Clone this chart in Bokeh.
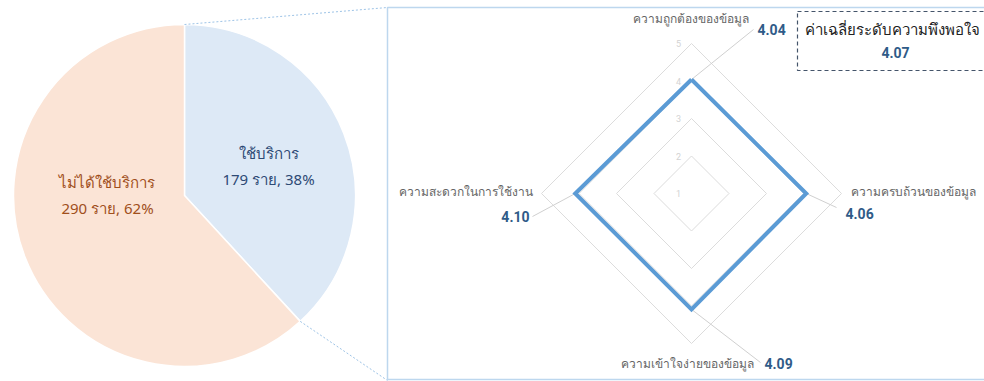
from bokeh.plotting import figure
from bokeh.models import Range1d
from bokeh.embed import file_html
from bokeh.resources import INLINE
from bokeh.core.properties import value
import math

# ---- data ----
pie_labels = ["ใช้บริการ", "ไม่ได้ใช้บริการ"]
pie_counts = [179, 290]
pie_pcts = [38, 62]

radar_axes = ["ความถูกต้องของข้อมูล", "ความครบถ้วนของข้อมูล",
              "ความเข้าใจง่ายของข้อมูล", "ความสะดวกในการใช้งาน"]
radar_scores = [4.04, 4.06, 4.09, 4.10]
ring_levels = [1, 2, 3, 4, 5]
avg_title = "ค่าเฉลี่ยระดับความพึงพอใจ"
avg_score = round(sum(radar_scores) / len(radar_scores), 2)

W, H = 984, 381
THAI = value("Noto Sans")
NUM = value("Roboto")


def Y(py):
    # page-pixel row -> data y (data y grows upward)
    return H - py


p = figure(width=W, height=H, output_backend="svg", toolbar_location=None,
           x_range=Range1d(0, W), y_range=Range1d(0, H),
           min_border=0, border_fill_color="white", outline_line_color=None)
p.axis.visible = False
p.grid.visible = False

# ---- pie ----
pcx, pcy, pr = 184, Y(195), 171
total = sum(pie_counts)
used_frac = pie_counts[0] / total
a_top = math.pi / 2
a_end = a_top - used_frac * 2 * math.pi
p.wedge(x=[pcx, pcx], y=[pcy, pcy], radius=pr,
        start_angle=[a_end, a_top], end_angle=[a_top, a_end + 2 * math.pi],
        fill_color=["#dde9f6", "#fbe4d6"], line_color="white", line_width=1.5)

# slice labels
p.text(x=[268, 106], y=[Y(152), Y(181)], text=pie_labels,
       text_color=["#2d4a75", "#a04f1c"], text_font=THAI, text_font_size="15px",
       text_align="center", text_baseline="middle")
p.text(x=[268, 107], y=[Y(178), Y(207)],
       text=[f"{c} ราย, {q}%" for c, q in zip(pie_counts, pie_pcts)],
       text_color=["#2d4a75", "#a04f1c"], text_font=THAI, text_font_size="15px",
       text_align="center", text_baseline="middle")

# zoom connector lines from the used slice to the detail panel
end_x = pcx + pr * math.cos(a_end)
end_y = pcy + pr * math.sin(a_end)
p.multi_line(xs=[[pcx, 387], [end_x, 387]], ys=[[pcy + pr, Y(7)], [end_y, Y(380)]],
             line_color="#9dc3e6", line_width=1, line_dash="2 2")

# detail panel frame
p.quad(left=[387], right=[1000], bottom=[Y(379)], top=[Y(7)],
       fill_color=None, line_color="#bdd7ee", line_width=1.5)

# ---- radar ----
rcx, rcy, unit = 691, Y(193), 37.5
dirs = [(0, 1), (1, 0), (0, -1), (-1, 0)]


def pt(v, d):
    r = (v - ring_levels[0]) * unit
    return rcx + r * d[0], rcy + r * d[1]


ring_xs, ring_ys = [], []
for lv in ring_levels[1:]:
    pts = [pt(lv, d) for d in dirs] + [pt(lv, dirs[0])]
    ring_xs.append([q[0] for q in pts])
    ring_ys.append([q[1] for q in pts])
p.multi_line(xs=ring_xs, ys=ring_ys, line_color="#dcdcdc", line_width=1)

p.text(x=[rcx - 13] * len(ring_levels),
       y=[pt(lv, dirs[0])[1] for lv in ring_levels],
       text=[str(lv) for lv in ring_levels], text_color="#d3d3d3",
       text_font=NUM, text_font_size="9px", text_align="center",
       text_baseline="middle")

# leader lines from each score vertex to its value label
verts = [pt(v, d) for v, d in zip(radar_scores, dirs)]
lead_end = [(753, Y(29)), (836, Y(207)), (760, Y(362)), (532, Y(216))]
p.multi_line(xs=[[v[0], e[0]] for v, e in zip(verts, lead_end)],
             ys=[[v[1], e[1]] for v, e in zip(verts, lead_end)],
             line_color="#d0d0d0", line_width=1)

sx = [q[0] for q in verts] + [verts[0][0]]
sy = [q[1] for q in verts] + [verts[0][1]]
p.line(sx, sy, line_color="#5b9bd5", line_width=4, line_join="miter")

# axis names
p.text(x=[748, 850, 753, 532], y=[Y(18), Y(191), Y(363), Y(191)], text=radar_axes,
       text_align=["right", "left", "right", "right"], text_baseline="middle",
       text_color="#666666", text_font=THAI, text_font_size="12px")
# score values
p.text(x=[757, 845, 764, 529], y=[Y(29), Y(213), Y(363), Y(216)],
       text=[f"{s:.2f}" for s in radar_scores],
       text_align=["left", "left", "left", "right"], text_baseline="middle",
       text_color="#2f5b88", text_font=NUM, text_font_size="14px",
       text_font_style="bold")

# average box
p.quad(left=[797], right=[1000], bottom=[Y(70)], top=[Y(11)],
       fill_color="white", line_color="#44546a", line_width=1.2, line_dash="4 3")
p.text(x=[892], y=[Y(28)], text=[avg_title], text_align="center",
       text_baseline="middle", text_color="#222222", text_font=THAI,
       text_font_size="15px")
p.text(x=[895], y=[Y(52)], text=[f"{avg_score:.2f}"], text_align="center",
       text_baseline="middle", text_color="#2f5b88", text_font=NUM,
       text_font_size="14px", text_font_style="bold")

open("out.html", "w").write(file_html(p, INLINE))
